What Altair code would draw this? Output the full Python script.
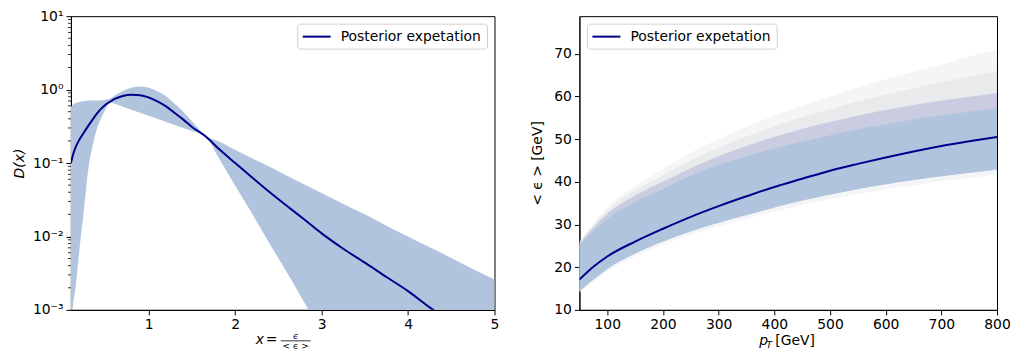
import altair as alt
import pandas as pd

# ---------------- left panel: D(x) ----------------
x_vals = [0.1, 0.12, 0.15, 0.2, 0.25, 0.3, 0.35, 0.4, 0.45, 0.5, 0.55, 0.6, 0.7, 0.8,
          0.9, 1.0, 1.1, 1.2, 1.3, 1.4, 1.5, 1.66, 1.8, 2.0, 2.2, 2.4, 2.6, 2.8, 3.0,
          3.25, 3.5, 3.75, 4.0, 4.25, 4.5, 4.75, 5.0]
d_mean = [0.10, 0.125, 0.16, 0.21, 0.26, 0.32, 0.39, 0.47, 0.55, 0.62, 0.68, 0.74, 0.82, 0.85,
          0.84, 0.78, 0.69, 0.59, 0.48, 0.39, 0.31, 0.23, 0.16, 0.10, 0.063, 0.040, 0.026, 0.017, 0.011,
          0.0068, 0.0044, 0.0028, 0.0018, 0.00108, 0.00068, 0.00043, 0.00027]
d_upper = [0.58, 0.62, 0.65, 0.68, 0.70, 0.71, 0.71, 0.71, 0.715, 0.73, 0.75, 0.82, 0.96, 1.06,
           1.10, 1.06, 0.95, 0.81, 0.64, 0.50, 0.37, 0.234, 0.20, 0.151, 0.115, 0.089, 0.067, 0.051, 0.039,
           0.0277, 0.020, 0.014, 0.0100, 0.0071, 0.0051, 0.0036, 0.0026]
d_lower = [0.00001, 0.001, 0.0019, 0.0069, 0.023, 0.081, 0.17, 0.29, 0.41, 0.54, 0.68, 0.645, 0.586, 0.53,
           0.484, 0.44, 0.40, 0.363, 0.33, 0.30, 0.273, 0.234, 0.123, 0.049, 0.020, 0.0079, 0.0032, 0.00126, 0.0005,
           0.00016, 0.00005, 0.00002, 0.00001, 0.00001, 0.00001, 0.00001, 0.00001]
minor_ticks = [0.002, 0.003, 0.004, 0.005, 0.006, 0.007, 0.008, 0.009,
               0.02, 0.03, 0.04, 0.05, 0.06, 0.07, 0.08, 0.09,
               0.2, 0.3, 0.4, 0.5, 0.6, 0.7, 0.8, 0.9,
               2, 3, 4, 5, 6, 7, 8, 9]

# ---------------- right panel: <eps> vs pT ----------------
pt_vals = [50, 75, 100, 150, 200, 250, 300, 350, 400, 450, 500, 550, 600, 650, 700, 750, 800]
e_mean = [17.1, 20.1, 22.5, 26.0, 29.0, 31.8, 34.3, 36.6, 38.8, 40.7, 42.6, 44.2, 45.7, 47.1, 48.4, 49.5, 50.5]
e_core_lo = [14.4, 17.1, 19.6, 23.2, 26.0, 28.4, 30.4, 32.2, 34.0, 35.6, 37.0, 38.3, 39.4, 40.4, 41.3, 42.1, 42.9]
e_core_hi = [25.0, 28.5, 31.3, 35.3, 38.3, 41.5, 44.0, 46.0, 47.8, 49.4, 50.9, 52.3, 53.5, 54.6, 55.6, 56.4, 57.2]
e_tint_hi = [25.5, 29.3, 32.5, 36.8, 40.0, 43.2, 46.0, 48.4, 50.5, 52.4, 54.0, 55.5, 56.8, 58.0, 59.0, 59.9, 60.8]
e_grey_hi = [25.7, 29.8, 33.2, 38.0, 41.5, 45.0, 48.0, 50.6, 53.0, 55.1, 57.0, 58.8, 60.4, 61.9, 63.3, 64.6, 65.9]
e_outer_hi = [26.0, 30.3, 34.0, 39.0, 43.0, 46.8, 50.0, 52.9, 55.5, 57.9, 60.0, 62.1, 64.0, 65.8, 67.5, 69.3, 71.0]
e_outer_lo = [14.0, 16.6, 19.0, 22.5, 25.3, 27.6, 29.6, 31.3, 33.0, 34.5, 35.9, 37.1, 38.2, 39.2, 40.1, 40.9, 41.7]

SERIES = "Posterior expetation"
LINE_COLOR = "#00008b"
BAND_COLOR = "#b0c4de"
FS = 13.9
W, H = 424, 294
W_R = 418
INTERP = "monotone"

left_df = pd.DataFrame({"x": x_vals, "mean": d_mean, "lo": d_lower, "hi": d_upper})
right_df = pd.DataFrame({"pt": pt_vals, "mean": e_mean, "clo": e_core_lo, "chi": e_core_hi,
                         "thi": e_tint_hi, "ghi": e_grey_hi, "ohi": e_outer_hi, "olo": e_outer_lo})
one = pd.DataFrame({"k": [0]})


def legend_box(x0):
    """Legend frame, line sample and label, x0 = left edge inside the plot (px)."""
    box = alt.Chart(one).mark_rect(fill="white", stroke="#d0d0d0", strokeWidth=1, cornerRadius=3).encode(
        x=alt.value(x0), x2=alt.value(x0 + 190), y=alt.value(8), y2=alt.value(33))
    sample = alt.Chart(one).mark_rule(color=LINE_COLOR, strokeWidth=2).encode(
        x=alt.value(x0 + 5), x2=alt.value(x0 + 33), y=alt.value(20.5))
    label = alt.Chart(one).mark_text(text=SERIES, fontSize=FS, align="left", baseline="middle",
                                     color="black").encode(x=alt.value(x0 + 43), y=alt.value(20.5))
    return [box, sample, label]


# ---- left ----
lx_axis = alt.Axis(values=[1, 2, 3, 4, 5], title=None, format="d")
lx = lambda f: alt.X(f, type="quantitative", scale=alt.Scale(domain=[0.1, 5], nice=False, zero=False), axis=lx_axis)
ly_axis = alt.Axis(values=[0.001, 0.01, 0.1, 1, 10], title="D(x)", titleFontStyle="italic", titlePadding=6,
                   labelExpr="datum.value < 0.005 ? '10⁻³' : datum.value < 0.05 ? '10⁻²' : datum.value < 0.5 ? '10⁻¹' : datum.value < 5 ? '10⁰' : '10¹'")
ly = lambda f: alt.Y(f, type="quantitative", scale=alt.Scale(type="log", domain=[0.001, 10], nice=False), axis=ly_axis)

band_l = alt.Chart(left_df).mark_area(color=BAND_COLOR, clip=True, interpolate=INTERP).encode(
    x=lx("x"), y=ly("lo"), y2="hi")
line_l = alt.Chart(left_df).mark_line(strokeWidth=2, clip=True, interpolate=INTERP, color=LINE_COLOR).encode(
    x=lx("x"), y=ly("mean"))
minor_l = alt.Chart(pd.DataFrame({"v": minor_ticks})).mark_rule(color="black", strokeWidth=0.8).encode(
    y=ly("v"), x=alt.value(0), x2=alt.value(-3))

lt_x = alt.Chart(one).mark_text(text="x", fontSize=FS, fontStyle="italic", align="left", baseline="middle",
                                color="black").encode(x=alt.value(185), y=alt.value(324))
lt_eq = alt.Chart(one).mark_text(text="=", fontSize=FS, align="left", baseline="middle",
                                 color="black").encode(x=alt.value(195), y=alt.value(324))
lt_bar = alt.Chart(one).mark_rule(color="black", strokeWidth=0.8).encode(
    x=alt.value(210), x2=alt.value(240), y=alt.value(325))
lt_num = alt.Chart(one).mark_text(text="ϵ", fontSize=9, fontStyle="italic", align="center", baseline="middle",
                                  color="black").encode(x=alt.value(225), y=alt.value(320.5))
lt_den = alt.Chart(one).mark_text(text="< ϵ >", fontSize=9, align="center", baseline="middle",
                                  color="black").encode(x=alt.value(225), y=alt.value(330))

left = alt.layer(band_l, line_l, minor_l, lt_x, lt_eq, lt_bar, lt_num, lt_den,
                 *legend_box(227)).properties(width=W, height=H)

# ---- right ----
rx_axis = alt.Axis(values=[100, 200, 300, 400, 500, 600, 700, 800], title=None)
rx = lambda f: alt.X(f, type="quantitative", scale=alt.Scale(domain=[50, 800], nice=False, zero=False), axis=rx_axis)
ry_axis = alt.Axis(values=[10, 20, 30, 40, 50, 60, 70], title="< ϵ >  [GeV]", titlePadding=9)
ry = lambda f: alt.Y(f, type="quantitative", scale=alt.Scale(domain=[10, 78.8], nice=False, zero=False), axis=ry_axis)

outer_r = alt.Chart(right_df).mark_area(color="#eff1f2", opacity=0.7, clip=True, interpolate=INTERP).encode(
    x=rx("pt"), y=ry("olo"), y2="ohi")
grey_r = alt.Chart(right_df).mark_area(color="#e0e3e6", opacity=0.6, clip=True, interpolate=INTERP).encode(
    x=rx("pt"), y=ry("clo"), y2="ghi")
tint_r = alt.Chart(right_df).mark_area(color="#c2c5df", opacity=0.8, clip=True, interpolate=INTERP).encode(
    x=rx("pt"), y=ry("clo"), y2="thi")
core_r = alt.Chart(right_df).mark_area(color=BAND_COLOR, clip=True, interpolate=INTERP).encode(
    x=rx("pt"), y=ry("clo"), y2="chi")
line_r = alt.Chart(right_df).mark_line(strokeWidth=2, clip=True, interpolate=INTERP, color=LINE_COLOR).encode(
    x=rx("pt"), y=ry("mean"))

rt_p = alt.Chart(one).mark_text(text="p", fontSize=FS, fontStyle="italic", align="left", baseline="alphabetic",
                                color="black").encode(x=alt.value(180), y=alt.value(329.5))
rt_t = alt.Chart(one).mark_text(text="T", fontSize=9.5, fontStyle="italic", align="left", baseline="alphabetic",
                                color="black").encode(x=alt.value(187), y=alt.value(332.5))
rt_gev = alt.Chart(one).mark_text(text="[GeV]", fontSize=FS, align="left", baseline="alphabetic",
                                  color="black").encode(x=alt.value(196), y=alt.value(329.5))

right = alt.layer(outer_r, grey_r, tint_r, core_r, line_r, rt_p, rt_t, rt_gev,
                  *legend_box(8)).properties(width=W_R, height=H)

chart = alt.hconcat(left, right, spacing=30).properties(
    padding={"left": 3, "top": 0, "right": 0, "bottom": -1}
).configure(font="DejaVu Sans").configure_axis(
    grid=False, labelFontSize=FS, titleFontSize=FS, titleFontWeight="normal", labelColor="black",
    titleColor="black", tickColor="black", domainColor="black", tickSize=5, labelPadding=3,
    labelFlush=False, labelFont="DejaVu Sans", titleFont="DejaVu Sans"
).configure_view(stroke="black", strokeWidth=1)

chart.save("out.html", embed_options={"renderer": "svg", "actions": False})
